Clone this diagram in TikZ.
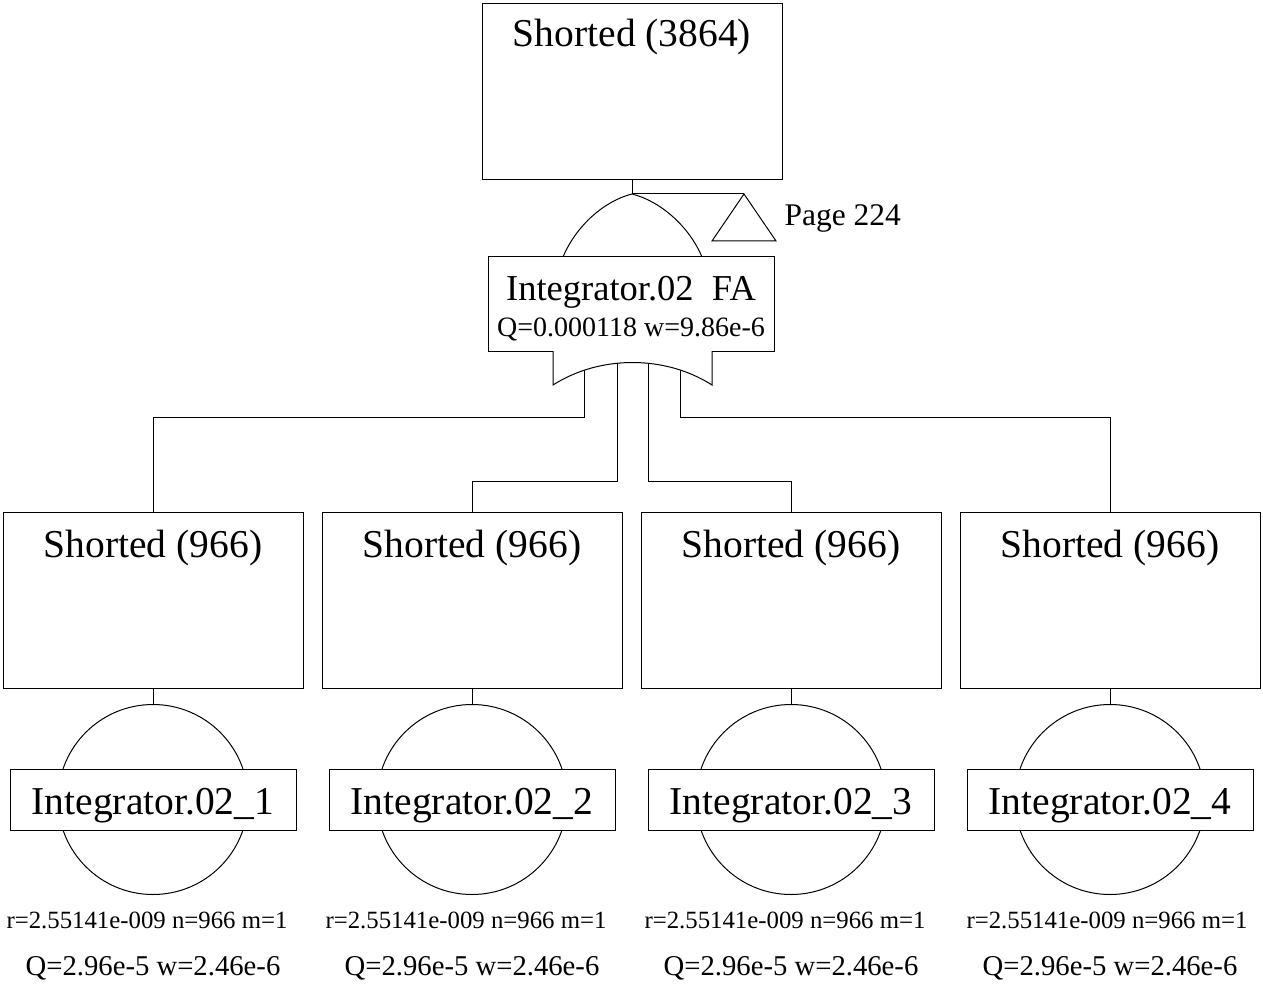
\documentclass[tikz,border=0pt]{standalone}
\usepackage{fontspec}
\setmainfont{Liberation Serif}
\usetikzlibrary{positioning, calc}

\newcommand{\evfont}{\fontsize{39.5}{44}\selectfont}
\newcommand{\gatefont}{\fontsize{36.5}{40}\selectfont}
\newcommand{\qfont}{\fontsize{28}{32}\selectfont}
\newcommand{\lblfont}{\fontsize{39.5}{44}\selectfont}
\newcommand{\rfont}{\fontsize{24.8}{28}\selectfont}
\newcommand{\qbfont}{\fontsize{28.7}{32}\selectfont}
\newcommand{\pagefont}{\fontsize{31.5}{36}\selectfont}

\begin{document}
\begin{tikzpicture}[
        x=1pt, y=-1pt,
        line width=1pt,
        evbox/.style={draw, minimum width=300pt, minimum height=176pt, inner sep=0pt},
        gatebox/.style={draw, fill=white, minimum width=286pt, minimum height=94pt, inner sep=0pt},
        lblbox/.style={draw, fill=white, minimum width=286pt, minimum height=61pt,
            inner sep=0pt, font=\lblfont, text height=30pt, text depth=0pt},
        evcircle/.style={draw, circle, minimum size=190pt, inner sep=0pt},
        txt/.style={anchor=base, inner sep=0pt},
    ]
        \useasboundingbox (0,0) rectangle (1263,984);

        % top event and transfer
        \node[evbox] (top) at (632,91.5) {};
        \node[txt, font=\evfont] (topt) at ($(top.north)+(0,44)$) {Shorted (3864)};
        \coordinate (gtip) at (632,194);
        \coordinate (tri) at (744,194);
        \draw (top.south) -- (gtip);
        \draw (gtip) -- (tri);
        \draw (tri) -- (712,241) -- (776,241) -- cycle;
        \node[txt, font=\pagefont, anchor=base west] (page) at (784,226) {Page 224};

        % OR gate
        \draw (563,257) .. controls (576,226) and (604,201) .. (gtip)
            .. controls (660,201) and (689,226) .. (702,257);
        \node[gatebox] (ga) at (631,304) {};
        \node[txt, font=\gatefont] (gat) at ($(ga)+(0,-4)$) {Integrator.02\ \ FA};
        \node[txt, font=\qfont] (gaq) at ($(ga)+(0,32)$) {Q=0.000118 w=9.86e-6};
        \coordinate (o1) at (584,358);
        \coordinate (o2) at (617,358);
        \coordinate (o3) at (648,358);
        \coordinate (o4) at (680,358);

        % bottom events
        \node[evbox] (b1) at (153,600.5) {};
        \node[evbox, right=18pt of b1] (b2) {};
        \node[evbox, right=18pt of b2] (b3) {};
        \node[evbox, right=18pt of b3] (b4) {};
        \node[txt, font=\evfont] (b1t) at ($(b1.north)+(0,45)$) {Shorted (966)};
        \node[txt, font=\evfont] (b2t) at ($(b2.north)+(0,45)$) {Shorted (966)};
        \node[txt, font=\evfont] (b3t) at ($(b3.north)+(0,45)$) {Shorted (966)};
        \node[txt, font=\evfont] (b4t) at ($(b4.north)+(0,45)$) {Shorted (966)};

        % gate outputs
        \draw (o1) -- ++(0,59) -| (b1.north);
        \draw (o2) -- ++(0,123) -| (b2.north);
        \draw (o3) -- ++(0,123) -| (b3.north);
        \draw (o4) -- ++(0,59) -| (b4.north);
        \draw[fill=white] (553,351) -- (553,385) .. controls (600,355) and (665,355) .. (712,385)
            -- (712,351);

        % basic events
        \node[evcircle, below=15pt of b1] (e1) {};
        \node[evcircle, below=15pt of b2] (e2) {};
        \node[evcircle, below=15pt of b3] (e3) {};
        \node[evcircle, below=15pt of b4] (e4) {};
        \draw (b1.south) -- (e1.north);
        \draw (b2.south) -- (e2.north);
        \draw (b3.south) -- (e3.north);
        \draw (b4.south) -- (e4.north);
        \node[lblbox] (l1) at (e1) {Integrator.02\_1};
        \node[lblbox] (l2) at (e2) {Integrator.02\_2};
        \node[lblbox] (l3) at (e3) {Integrator.02\_3};
        \node[lblbox] (l4) at (e4) {Integrator.02\_4};
        \node[txt, font=\rfont] (r1) at ($(e1)+(-6,129)$) {r=2.55141e-009 n=966 m=1};
        \node[txt, font=\rfont] (r2) at ($(e2)+(-6,129)$) {r=2.55141e-009 n=966 m=1};
        \node[txt, font=\rfont] (r3) at ($(e3)+(-6,129)$) {r=2.55141e-009 n=966 m=1};
        \node[txt, font=\rfont] (r4) at ($(e4)+(-3,129)$) {r=2.55141e-009 n=966 m=1};
        \node[txt, font=\qbfont] (q1) at ($(e1)+(0,176)$) {Q=2.96e-5 w=2.46e-6};
        \node[txt, font=\qbfont] (q2) at ($(e2)+(0,176)$) {Q=2.96e-5 w=2.46e-6};
        \node[txt, font=\qbfont] (q3) at ($(e3)+(0,176)$) {Q=2.96e-5 w=2.46e-6};
        \node[txt, font=\qbfont] (q4) at ($(e4)+(0,176)$) {Q=2.96e-5 w=2.46e-6};
    \end{tikzpicture}
\end{document}
